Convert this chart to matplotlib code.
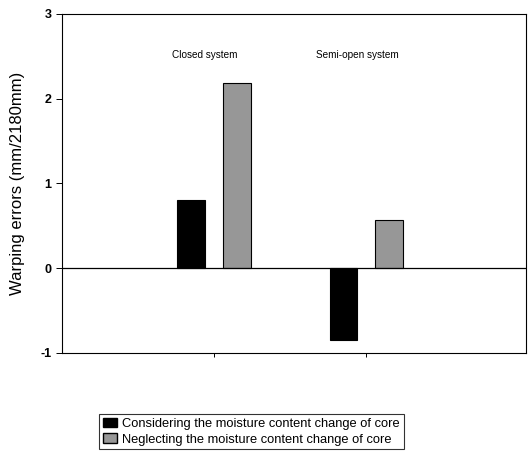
import numpy as np
import matplotlib.pyplot as plt
from matplotlib.patches import Patch

systems = ["Closed system", "Semi-open system"]
considering = [0.80, -0.85]
neglecting = [2.18, 0.57]
labels = ["Considering the moisture content change of core",
          "Neglecting the moisture content change of core"]

plt.rcParams['font.family'] = ['Liberation Sans', 'DejaVu Sans']

fig = plt.figure(figsize=(5.29, 4.62), dpi=100)
ax = fig.add_axes([0.117, 0.236, 0.877, 0.734])

x = np.arange(1, len(systems) + 1)
w = 0.18
ax.bar(x - 0.15, considering, width=w, color='black', edgecolor='black', linewidth=0.8)
ax.bar(x + 0.15, neglecting, width=w, color='#979797', edgecolor='black', linewidth=0.8)

ax.axhline(0, color='black', linewidth=0.9)

for xi, name in zip(x, systems):
    ax.text(xi - 0.06, 2.52, name, ha='center', va='center', fontsize=7.2)

ax.set_xlim(0, 3.05)
ax.set_ylim(-1, 3)
ax.set_yticks([-1, 0, 1, 2, 3])
ax.set_yticklabels(['-1', '0', '1', '2', '3'], fontweight='bold', fontsize=9)
ax.set_xticks(x)
ax.set_xticklabels([])
ax.tick_params(axis='x', direction='out', length=3, width=0.7)
ax.tick_params(axis='y', direction='out', length=4, width=0.7)
for s in ax.spines.values():
    s.set_linewidth(0.8)

ax.set_ylabel("Warping errors (mm/2180mm)", fontsize=12, labelpad=11)

handles = [Patch(facecolor='black', edgecolor='black'),
           Patch(facecolor='#979797', edgecolor='black')]
leg = fig.legend(handles, labels, loc='upper left',
                 bbox_to_anchor=(0.187, 1 - 414 / 462),
                 bbox_transform=fig.transFigure, fontsize=9.3, frameon=True,
                 fancybox=False, edgecolor='black', handlelength=1.1,
                 handleheight=0.75, handletextpad=0.4, labelspacing=0.25,
                 borderpad=0.3, borderaxespad=0)
leg.get_frame().set_linewidth(0.8)

plt.savefig('out.png', dpi=100)
